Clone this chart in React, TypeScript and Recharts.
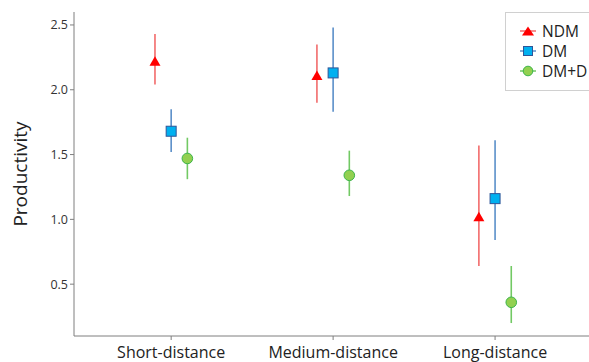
import React from 'react';
import { ScatterChart, Scatter, XAxis, YAxis, ErrorBar } from 'recharts';

const categories = ['Short-distance', 'Medium-distance', 'Long-distance'];
const seriesNames = ['NDM', 'DM', 'DM+D'];

// mean, lower and upper ends of each interval
const ndmMean = [2.22, 2.11, 1.02];
const ndmLow = [2.04, 1.9, 0.64];
const ndmHigh = [2.43, 2.35, 1.57];

const dmMean = [1.68, 2.13, 1.16];
const dmLow = [1.52, 1.83, 0.84];
const dmHigh = [1.85, 2.48, 1.61];

const dmdMean = [1.47, 1.34, 0.36];
const dmdLow = [1.31, 1.18, 0.2];
const dmdHigh = [1.63, 1.53, 0.64];

const yTicks = [0.5, 1.0, 1.5, 2.0, 2.5];
const xTicks = [1, 2, 3];

const build = (mean: number[], low: number[], high: number[], shift: number) =>
  mean.map((m, i) => ({
    x: i + 1 + shift,
    y: m,
    err: [m - low[i], high[i] - m],
  }));

const ndmData = build(ndmMean, ndmLow, ndmHigh, -0.1);
const dmData = build(dmMean, dmLow, dmHigh, 0);
const dmdData = build(dmdMean, dmdLow, dmdHigh, 0.1);

const Triangle = (p: any) => (
  <polygon
    points={`${p.cx - 5.5},${p.cy + 4.5} ${p.cx + 5.5},${p.cy + 4.5} ${p.cx},${p.cy - 5}`}
    fill="#ff0000"
  />
);
const Square = (p: any) => (
  <rect x={p.cx - 5} y={p.cy - 5} width={10} height={10} fill="#00b0f0" stroke="#2f5597" strokeWidth={1} />
);
const Dot = (p: any) => <circle cx={p.cx} cy={p.cy} r={5.3} fill="#92d050" stroke="#3cb44b" strokeWidth={1} />;

const legendIcons = [
  { line: '#f26b6b', icon: <polygon points="2,10.5 14,10.5 8,1.5" fill="#ff0000" /> },
  { line: '#5b8fc9', icon: <rect x={3.5} y={1.5} width={9} height={9} fill="#00b0f0" stroke="#2f5597" /> },
  { line: '#72c964', icon: <circle cx={8} cy={6} r={4.8} fill="#92d050" stroke="#3cb44b" /> },
];

const LegendBox = () => (
  <div
    style={{
      position: 'absolute',
      left: 505,
      top: 12,
      border: '1px solid #d0d0d0',
      background: '#fff',
      padding: '8px 0 9px 14px',
      width: 90,
      fontFamily: 'Open Sans, sans-serif',
      fontSize: 15.5,
      lineHeight: '20px',
      color: '#222',
    }}
  >
    {seriesNames.map((n, i) => (
      <div key={n} style={{ display: 'flex', alignItems: 'center', height: 20 }}>
        <svg width={16} height={12} style={{ marginRight: 6 }}>
          <line x1={0} y1={6} x2={16} y2={6} stroke={legendIcons[i].line} strokeWidth={1.5} />
          {legendIcons[i].icon}
        </svg>
        <span>{n}</span>
      </div>
    ))}
  </div>
);

export default function App() {
  return (
    <div style={{ position: 'absolute', left: 0, top: 0, width: 589, height: 362, overflow: 'hidden', background: '#fff' }}>
      <ScatterChart width={589} height={362} margin={{ top: 12, right: 0, bottom: 0, left: 0 }}>
        <XAxis
          type="number"
          dataKey="x"
          domain={[0.4, 3.58]}
          ticks={xTicks}
          tickFormatter={(v: number) => categories[v - 1]}
          height={26}
          axisLine={{ stroke: '#7f7f7f' }}
          tickLine={{ stroke: '#7f7f7f' }}
          tickSize={4}
          tick={{ fill: '#222', fontSize: 16, fontFamily: 'Open Sans, sans-serif', dy: 5 }}
          allowDataOverflow
        />
        <YAxis
          type="number"
          dataKey="y"
          domain={[0.1, 2.6]}
          ticks={yTicks}
          tickFormatter={(v: number) => v.toFixed(1)}
          width={74}
          axisLine={{ stroke: '#7f7f7f' }}
          tickLine={{ stroke: '#7f7f7f' }}
          tickSize={4}
          tick={{ fill: '#333', fontSize: 12.5, fontFamily: 'Open Sans, sans-serif' }}
          label={{
            value: 'Productivity',
            angle: -90,
            position: 'insideLeft',
            offset: 20,
            style: { fill: '#222', fontSize: 19, fontFamily: 'Open Sans, sans-serif', textAnchor: 'middle' },
          }}
          allowDataOverflow
        />
        <Scatter name="NDM" data={ndmData} shape={Triangle} isAnimationActive={false}>
          <ErrorBar dataKey="err" direction="y" width={0} stroke="#f26b6b" strokeWidth={1.6} />
        </Scatter>
        <Scatter name="DM" data={dmData} shape={Square} isAnimationActive={false}>
          <ErrorBar dataKey="err" direction="y" width={0} stroke="#5b8fc9" strokeWidth={1.6} />
        </Scatter>
        <Scatter name="DM+D" data={dmdData} shape={Dot} isAnimationActive={false}>
          <ErrorBar dataKey="err" direction="y" width={0} stroke="#72c964" strokeWidth={1.6} />
        </Scatter>
      </ScatterChart>
      <LegendBox />
    </div>
  );
}
